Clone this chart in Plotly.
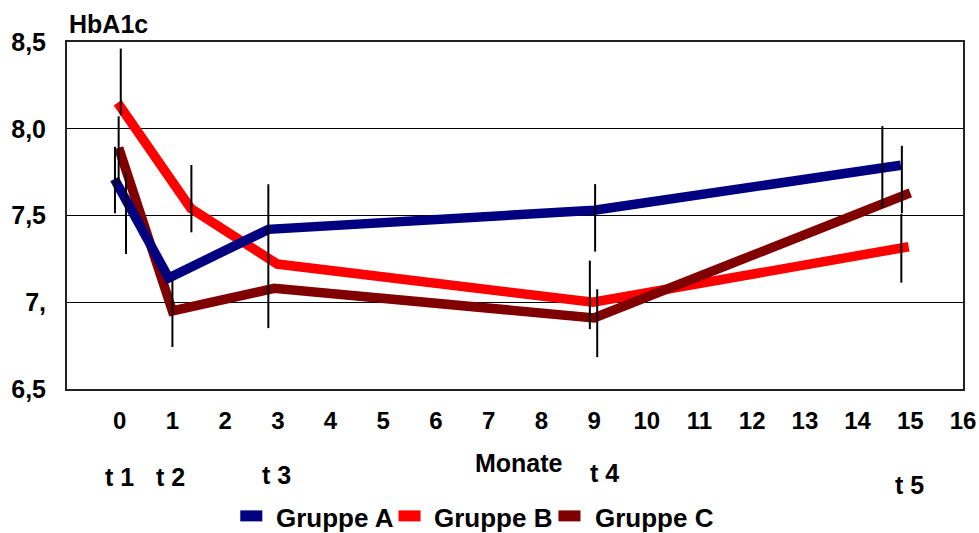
import plotly.graph_objects as go

# HbA1c course over the months of follow-up, three groups
months_a = [-0.1, 0.93, 2.82, 9.0, 14.82]
hba1c_a = [7.71, 7.14, 7.42, 7.53, 7.79]

months_b = [-0.04, 1.35, 2.99, 8.98, 14.97]
hba1c_b = [8.15, 7.54, 7.22, 7.00, 7.32]

months_c = [-0.02, 1.0, 2.93, 9.0, 15.0]
hba1c_c = [7.89, 6.95, 7.08, 6.91, 7.63]

series_names = ["Gruppe A", "Gruppe B", "Gruppe C"]
series_colors = ["#000080", "#FF0000", "#800000"]

# spread bars (month position, lower and upper HbA1c)
spread_month = [0.02, -0.02, -0.09, 0.12, 1.36, 1.0, 2.82, 9.02, 8.92, 9.06, 14.47, 14.84, 14.83]
spread_low = [8.078, 7.685, 7.513, 7.278, 7.403, 6.742, 6.851, 7.292, 6.845, 6.684, 7.545, 7.513, 7.113]
spread_high = [8.462, 8.072, 7.896, 7.746, 7.791, 7.129, 7.680, 7.681, 7.240, 7.075, 8.015, 7.902, 7.509]

# measurement time points
time_labels = ["t 1", "t 2", "t 3", "t 4", "t 5"]
time_months = [0.0, 0.97, 2.97, 9.2, 14.98]
time_label_y = [-0.255, -0.255, -0.247, -0.241, -0.276]

x_ticks = list(range(0, 17))
y_ticks = [6.5, 7.0, 7.5, 8.0, 8.5]
y_tick_text = ["6,5", "7,", "7,5", "8,0", "8,5"]

FONT = "Liberation Sans, Arial, sans-serif"

fig = go.Figure()

# draw order: B at the bottom, then C, then A on top
data = {
    "Gruppe A": (months_a, hba1c_a),
    "Gruppe B": (months_b, hba1c_b),
    "Gruppe C": (months_c, hba1c_c),
}
color_of = dict(zip(series_names, series_colors))
for name in ["Gruppe B", "Gruppe C", "Gruppe A"]:
    xs, ys = data[name]
    fig.add_trace(go.Scatter(
        x=xs, y=ys, name=name, mode="lines",
        line=dict(color=color_of[name], width=9.5),
        showlegend=False, hoverinfo="skip",
    ))

# vertical spread bars
fig.add_trace(go.Scatter(
    x=spread_month,
    y=spread_low,
    mode="markers",
    marker=dict(size=1, opacity=0),
    error_y=dict(
        type="data",
        symmetric=False,
        array=[h - l for h, l in zip(spread_high, spread_low)],
        arrayminus=[0] * len(spread_low),
        color="black", thickness=2, width=0,
    ),
    showlegend=False, hoverinfo="skip",
))

annotations = []
# axis caption above the plot
annotations.append(dict(
    text="HbA1c", xref="paper", yref="paper", x=0.0, y=1.051,
    xanchor="left", yanchor="middle", showarrow=False,
    font=dict(family=FONT, size=25, color="black", weight="bold"),
))
annotations.append(dict(
    text="Monate", xref="paper", yref="paper", x=0.5045, y=-0.212,
    xanchor="center", yanchor="middle", showarrow=False,
    font=dict(family=FONT, size=25, color="black", weight="bold"),
))
for lbl, mx, ly in zip(time_labels, time_months, time_label_y):
    annotations.append(dict(
        text=lbl, xref="x", yref="paper", x=mx, y=ly,
        xanchor="center", yanchor="middle", showarrow=False,
        font=dict(family=FONT, size=25, color="black", weight="bold"),
    ))

# legend row below the chart
shapes = []
legend_box_x = [0.1934, 0.3700, 0.5485]
legend_text_x = [0.2315, 0.4077, 0.5865]
for name, color, bx, tx in zip(series_names, series_colors, legend_box_x, legend_text_x):
    shapes.append(dict(
        type="rect", xref="paper", yref="paper",
        x0=bx, x1=bx + 0.0246, y0=-0.3815, y1=-0.3498,
        fillcolor=color, line=dict(width=0),
    ))
    annotations.append(dict(
        text=name, xref="paper", yref="paper", x=tx, y=-0.372,
        xanchor="left", yanchor="middle", showarrow=False,
        font=dict(family=FONT, size=26, color="black", weight="bold"),
    ))

fig.update_layout(
    width=979, height=533,
    margin=dict(l=67, r=16, t=42, b=144, autoexpand=False),
    paper_bgcolor="white", plot_bgcolor="white",
    font=dict(family=FONT, color="black", weight="bold"),
    annotations=annotations,
    shapes=shapes,
    showlegend=False,
)
fig.update_xaxes(
    range=[-1, 16], tickmode="array", tickvals=x_ticks,
    ticktext=[str(v) for v in x_ticks],
    showgrid=False, zeroline=False, automargin=False,
    showline=True, linecolor="#222", linewidth=2, mirror=True,
    ticks="", ticklabelstandoff=9, ticklabeloverflow="allow",
    tickfont=dict(family=FONT, size=24, color="black", weight="bold"),
)
fig.update_yaxes(
    range=[6.5, 8.5], tickmode="array", tickvals=y_ticks, ticktext=y_tick_text,
    showgrid=True, gridcolor="black", gridwidth=1, zeroline=False, automargin=False,
    showline=True, linecolor="#222", linewidth=2, mirror=True,
    ticks="", ticklabelstandoff=14,
    tickfont=dict(family=FONT, size=25, color="black", weight="bold"),
)

fig.write_html("out.html")
